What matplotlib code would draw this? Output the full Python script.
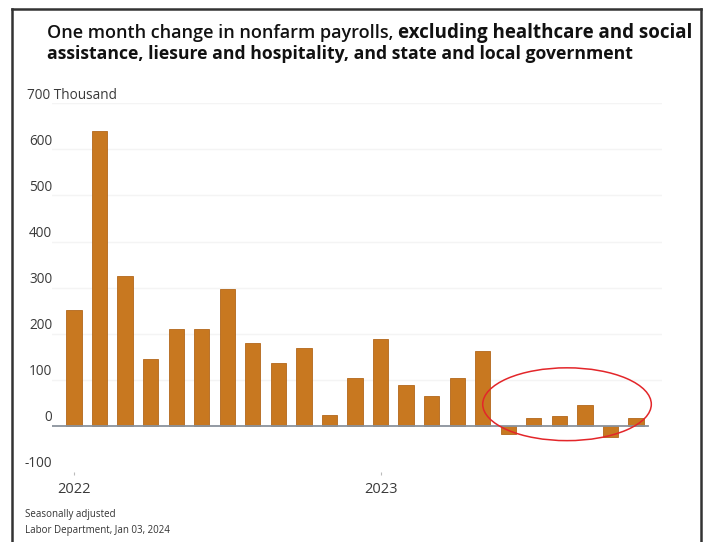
import matplotlib.pyplot as plt
from matplotlib.lines import Line2D
from matplotlib.patches import Ellipse
import numpy as np

# monthly change, thousands of jobs, Jan 2022 - Nov 2023
months = ['2022-01', '2022-02', '2022-03', '2022-04', '2022-05', '2022-06',
          '2022-07', '2022-08', '2022-09', '2022-10', '2022-11', '2022-12',
          '2023-01', '2023-02', '2023-03', '2023-04', '2023-05', '2023-06',
          '2023-07', '2023-08', '2023-09', '2023-10', '2023-11']
change = [251, 640, 325, 145, 211, 211, 296, 179, 137, 170, 24, 103,
          189, 89, 65, 105, 163, -18, 17, 21, 45, -24, 18]
y_ticks = [-100, 0, 100, 200, 300, 400, 500, 600]
year_labels = ['2022', '2023']

plt.rcParams['font.family'] = ['Open Sans', 'DejaVu Sans']

fig = plt.figure(figsize=(7.06, 5.42), dpi=100)
ax = fig.add_axes([0.0741, 0.1292, 0.8629, 0.6802])

x = np.arange(len(change))
ax.bar(x, change, width=0.6, color='#c87820', edgecolor='#b3671a', linewidth=0.6, zorder=2)

ax.set_xlim(-0.85, 23.0)
ax.set_ylim(-100, 700)

# faint gridlines and zero line
for v in y_ticks[2:] + [700]:
    ax.axhline(v, color='#f4f4f4', lw=1, zorder=0)
ax.axhline(0, xmin=0, xmax=0.978, color='#8a929c', lw=1.3, zorder=3)

for s in ax.spines.values():
    s.set_visible(False)

# y labels sit a little above their gridlines
ax.set_yticks([])
for v in y_ticks:
    ax.annotate(str(v), xy=(0, v), xycoords=('axes fraction', 'data'),
                xytext=(0, 8), textcoords='offset pixels',
                ha='right', va='center', fontsize=9.8, color='#3a3a3a')
ax.annotate('700 Thousand', xy=(0, 700), xycoords=('axes fraction', 'data'),
            xytext=(-25, 8), textcoords='offset pixels',
            ha='left', va='center', fontsize=9.8, color='#3a3a3a')

year_pos = [months.index('2022-01'), months.index('2023-01')]
ax.set_xticks(year_pos)
ax.set_xticklabels(year_labels, fontsize=10.5, color='#3a3a3a')
ax.tick_params(axis='x', length=2, width=0.8, color='#bbbbbb', pad=5)

# highlight of the recent months
ax.add_patch(Ellipse((19.3, 47), 6.6, 158, fill=False, edgecolor='#e3262a',
                     lw=1.1, clip_on=False, zorder=4))

# title: lighter first part, bold remainder
fig.canvas.draw()
renderer = fig.canvas.get_renderer()
t1 = fig.text(47 / 706, 1 - 33 / 542, 'One month change in nonfarm payrolls, ',
              fontsize=13, fontweight='semibold', color='#111111', va='center', ha='left')
bb = t1.get_window_extent(renderer)
fig.text(bb.x1 / fig.bbox.width, 1 - 33 / 542, 'excluding healthcare and social',
         fontsize=13.5, fontweight='bold', color='#111111', va='center', ha='left')
fig.text(47 / 706, 1 - 54 / 542,
         'assistance, liesure and hospitality, and state and local government',
         fontsize=12.7, fontweight='bold', color='#111111', va='center', ha='left')

fig.text(25 / 706, 1 - 514 / 542, 'Seasonally adjusted', fontsize=7, color='#333333', va='center')
fig.text(25 / 706, 1 - 530 / 542, 'Labor Department, Jan 03, 2024', fontsize=7,
         color='#333333', va='center')

# outer frame, open at the bottom
frame = dict(color='#333333', lw=1.8, transform=fig.transFigure)
fig.add_artist(Line2D([12 / 706, 12 / 706], [0, 1 - 9 / 542], **frame))
fig.add_artist(Line2D([12 / 706, 701 / 706], [1 - 9 / 542, 1 - 9 / 542], **frame))
fig.add_artist(Line2D([701 / 706, 701 / 706], [0, 1 - 9 / 542], **frame))

fig.savefig('out.png', dpi=100)
